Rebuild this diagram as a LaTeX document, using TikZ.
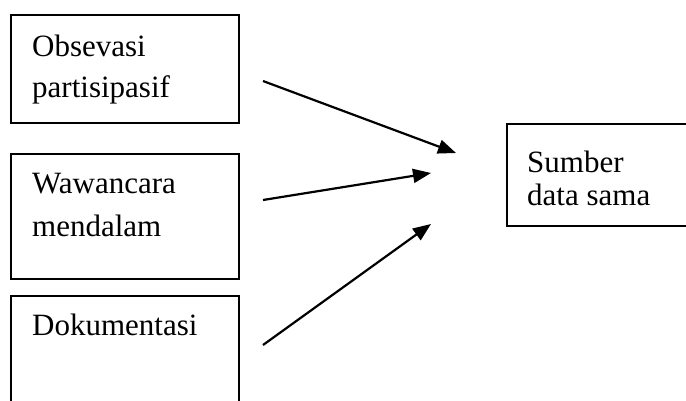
\documentclass[tikz,border=0pt]{standalone}
\usepackage{fontspec}
\setmainfont{Liberation Serif}
\usetikzlibrary{arrows.meta}
\begin{document}
\begin{tikzpicture}[x=1pt,y=-1pt,
  boxstyle/.style={draw=black, line width=2pt, rectangle, inner sep=0pt, anchor=north west},
  txt/.style={anchor=base west, inner sep=0pt, font=\fontsize{31}{33}\selectfont},
  arr/.style={line width=2.2pt, -{Triangle[length=18pt,width=14pt]}}]
\useasboundingbox (0,0) rectangle (686,400);
\node[boxstyle, minimum width=228pt, minimum height=108pt] (b1) at (10,14) {};
\node[boxstyle, minimum width=228pt, minimum height=125pt] (b2) at (10,153) {};
\node[boxstyle, minimum width=228pt, minimum height=120pt] (b3) at (10,295) {};
\node[boxstyle, minimum width=200pt, minimum height=102pt] (b4) at (506,123) {};
\node[txt] (t1a) at (32,56) {Obsevasi};
\node[txt] (t1b) at (32,97) {partisipasif};
\node[txt] (t2a) at (32,193) {Wawancara};
\node[txt] (t2b) at (32,236) {mendalam};
\node[txt] (t3a) at (32,335) {Dokumentasi};
\node[txt] (t4a) at (527,172) {Sumber};
\node[txt] (t4b) at (527,205) {data sama};
\coordinate (s1) at (263,81);
\coordinate (e1) at (456,153);
\coordinate (s2) at (263,200);
\coordinate (e2) at (431,173);
\coordinate (s3) at (263,345);
\coordinate (e3) at (431,224);
\draw[arr] (s1) -- (e1);
\draw[arr] (s2) -- (e2);
\draw[arr] (s3) -- (e3);
\end{tikzpicture}
\end{document}
